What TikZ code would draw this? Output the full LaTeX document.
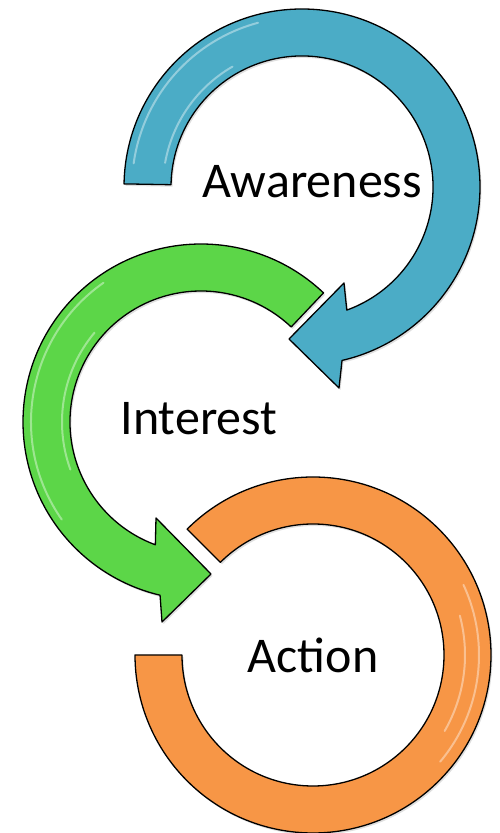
\documentclass[tikz,border=0pt]{standalone}
\usepackage{fontspec}
\setmainfont{Carlito}
\usetikzlibrary{calc,shadows}

\definecolor{awblue}{RGB}{75,172,198}
\definecolor{ingreen}{RGB}{92,214,72}
\definecolor{acorange}{RGB}{247,150,70}

\begin{document}
\begin{tikzpicture}[x=1pt,y=1pt,
    ring/.style={draw=black, line width=1.3pt, line join=round,
        drop shadow={opacity=0.25, shadow xshift=1.5pt, shadow yshift=-2pt}},
    gloss/.style={white, line width=2pt, opacity=0.4, line cap=round},
    stage/.style={font=\fontsize{50}{54}\selectfont, inner sep=0pt, anchor=base}]

    \useasboundingbox (0,0) rectangle (499,833);

    % centres of the rings
    \coordinate (cA) at (302,646);
    \coordinate (cI) at (201,411);
    \coordinate (cC) at (313,178);

    % arrow heads
    \coordinate (aTip) at (289,494);
    \coordinate (aBarbL) at (339,445);
    \coordinate (aBarbU) at (344,550);
    \coordinate (iTip) at (211,259);
    \coordinate (iBarbL) at (162,211);
    \coordinate (iBarbU) at (156,315);

    % awareness arrow (clockwise)
    \filldraw[ring, fill=awblue] ($(cA)+(179:178)$)
        arc[start angle=179, end angle=-77, radius=178pt]
        -- (aBarbL) -- (aTip) -- (aBarbU)
        -- ($(cA)+(-70:131)$)
        arc[start angle=-70, end angle=179, radius=131pt] -- cycle;
    \draw[gloss] ($(cA)+(172:170)$) arc[start angle=172, end angle=105, radius=170pt];
    \draw[gloss] ($(cA)+(170:139)$) arc[start angle=170, end angle=120, radius=139pt];

    % interest arrow (counter-clockwise)
    \filldraw[ring, fill=ingreen] ($(cI)+(46.5:178)$)
        arc[start angle=46.5, end angle=256.7, radius=178pt]
        -- (iBarbL) -- (iTip) -- (iBarbU)
        -- ($(cI)+(249.6:131)$)
        arc[start angle=249.6, end angle=46.5, radius=131pt] -- cycle;
    \draw[gloss] ($(cI)+(125:170)$) arc[start angle=125, end angle=215, radius=170pt];
    \draw[gloss] ($(cI)+(140:139)$) arc[start angle=140, end angle=200, radius=139pt];

    % action ring
    \filldraw[ring, fill=acorange] ($(cC)+(135:178)$)
        arc[start angle=135, end angle=-180, radius=178pt]
        -- ($(cC)+(180:131)$)
        arc[start angle=-180, end angle=135, radius=131pt] -- cycle;
    \draw[gloss] ($(cC)+(25:166)$) arc[start angle=25, end angle=-40, radius=166pt];
    \draw[gloss] ($(cC)+(15:152)$) arc[start angle=15, end angle=-30, radius=152pt];

    % labels
    \node[stage] (aware) at (312,635) {Awareness};
    \node[stage] (interest) at (199,398) {Interest};
    \node[stage] (action) at (313,160) {Action};

\end{tikzpicture}
\end{document}
